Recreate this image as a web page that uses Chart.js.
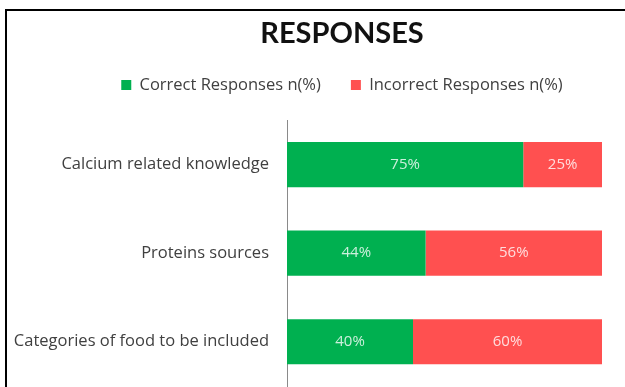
<!DOCTYPE html>
<html lang="en">
<head>
  <meta charset="UTF-8" />
  <title>Responses</title>
  <script src="https://cdn.jsdelivr.net/npm/chart.js"></script>
  <style>
    html, body {
      margin: 0;
      padding: 0;
      background: #fff;
      overflow: hidden;
      width: 625px;
      height: 387px;
    }
    #frame {
      position: absolute;
      left: 5px;
      top: 9px;
      width: 700px;
      height: 500px;
      border: 2.5px solid #000;
    }
    #chart {
      position: absolute;
      left: 0;
      top: 0;
    }
  </style>
</head>
<body>
  <div id="frame"></div>
  <canvas id="chart" width="684" height="400"></canvas>

  <script>
    const categories = ["Calcium related knowledge", "Proteins sources", "Categories of food to be included"];
    const correct = [75, 44, 40];
    const incorrect = [25, 56, 60];
    const seriesNames = ["Correct Responses n(%)", "Incorrect Responses n(%)"];

    // writes the percentage in the middle of each bar segment
    const barLabels = {
      id: "barLabels",
      afterDatasetsDraw(chart) {
        const ctx = chart.ctx;
        ctx.save();
        ctx.font = "15px 'Open Sans', sans-serif";
        ctx.fillStyle = "rgba(255,255,255,0.8)";
        ctx.textAlign = "center";
        ctx.textBaseline = "middle";
        chart.data.datasets.forEach((ds, i) => {
          chart.getDatasetMeta(i).data.forEach((bar, j) => {
            const cx = (bar.x + bar.base) / 2;
            ctx.fillText(ds.data[j] + "%", cx, bar.y);
          });
        });
        ctx.restore();
      }
    };

    // invisible axis used only as fixed-size spacer
    const spacer = (position, size) => ({
      type: "category",
      position,
      display: true,
      grid: { display: false, drawTicks: false },
      border: { display: false },
      ticks: { display: false },
      afterFit(scale) {
        if (scale.isHorizontal()) scale.height = size;
        else scale.width = size;
      }
    });

    new Chart(document.getElementById("chart"), {
      type: "bar",
      data: {
        labels: categories,
        datasets: [
          { label: seriesNames[0], data: correct, backgroundColor: "#00b050" },
          { label: seriesNames[1], data: incorrect, backgroundColor: "#ff5050" }
        ]
      },
      options: {
        indexAxis: "y",
        responsive: false,
        animation: false,
        layout: { padding: 0 },
        datasets: { bar: { categoryPercentage: 1, barPercentage: 0.51 } },
        scales: {
          x: { stacked: true, min: 0, max: 100, display: false },
          y: {
            stacked: true,
            grid: { display: false, drawTicks: false },
            border: { color: "#8a8a8a", width: 1 },
            ticks: {
              color: "#404040",
              font: { family: "'Open Sans', sans-serif", size: 16.5 },
              padding: 18
            },
            afterFit(scale) {
              scale.width = 287;
              scale.paddingTop = 0;
              scale.paddingBottom = 14;
            }
          },
          gapTop: spacer("top", 17),
          gapRight: spacer("right", 82)
        },
        plugins: {
          title: {
            display: true,
            text: "RESPONSES",
            color: "#111",
            font: { family: "Lato, sans-serif", size: 29, weight: "bold" },
            padding: { top: 16, bottom: -4 }
          },
          legend: {
            labels: {
              color: "#404040",
              font: { family: "'Open Sans', sans-serif", size: 16.5 },
              boxWidth: 10,
              boxHeight: 10,
              padding: 30
            }
          },
          tooltip: { enabled: false }
        }
      },
      plugins: [barLabels]
    });
  </script>
</body>
</html>
